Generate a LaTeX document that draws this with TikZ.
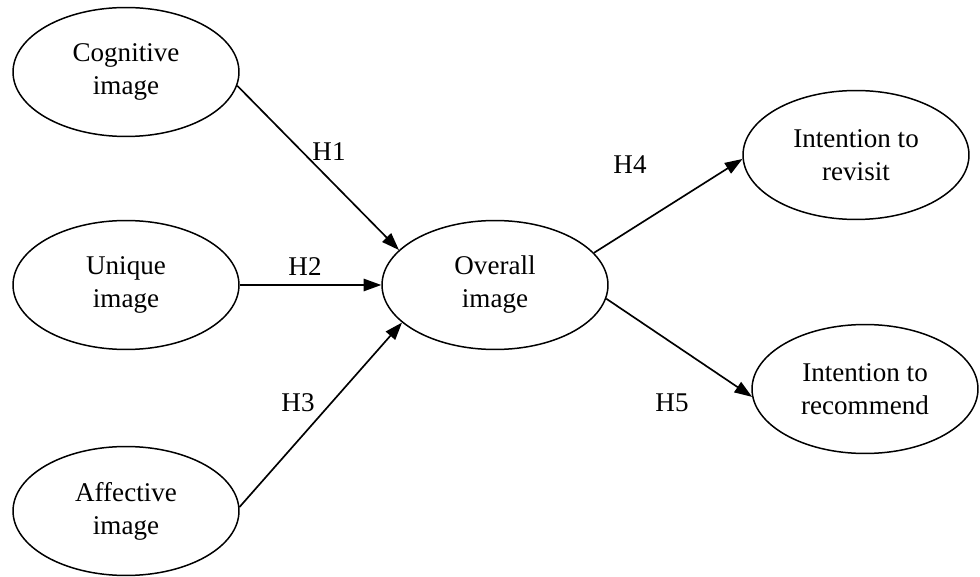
\documentclass[tikz,border=0pt]{standalone}
\usepackage{fontspec}
\setmainfont{Liberation Serif}
\usetikzlibrary{shapes.geometric, arrows.meta}

\begin{document}
\begin{tikzpicture}[x=0.02cm,y=-0.02cm,
	oval/.style={shape=ellipse,draw=black,line width=0.85pt,minimum width=4.52cm,minimum height=2.58cm,inner sep=0pt,align=center,font=\fontsize{15.4}{18.8}\selectfont},
	hyp/.style={-{Triangle[length=10pt,width=7pt]},line width=0.95pt,black},
	lab/.style={font=\fontsize{15.4}{18.8}\selectfont}]
					\useasboundingbox (0,0) rectangle (980,577);
					\node[oval] (cog) at (126,72) {Cognitive\\image};
					\node[oval] (uni) at (126,285) {Unique\\image};
					\node[oval] (aff) at (126,511) {Affective\\image};
					\node[oval] (ov) at (495,285) {Overall\\image};
					\node[oval] (rev) at (856,155) {Intention to\\revisit};
					\node[oval] (rec) at (865,389) {Intention to\\recommend};
					
					\path [hyp] (cog.-7) edge (ov.160);
					\path [hyp] (uni.east) edge (ov.west);
					\path [hyp] (aff.2) edge (ov.202);
					\path [hyp] (ov.18) edge (rev.182);
					\path [hyp] (ov.-7) edge (rec.184);
					
					\node[lab] (h1) at (329,152) {H1};% cognitive
					\node[lab] (h2) at (305,267) {H2};
					\node[lab] (h3) at (298,403) {H3};
					\node[lab] (h4) at (630,165) {H4};
					\node[lab] (h5) at (672,403) {H5};
\end{tikzpicture}
\end{document}
